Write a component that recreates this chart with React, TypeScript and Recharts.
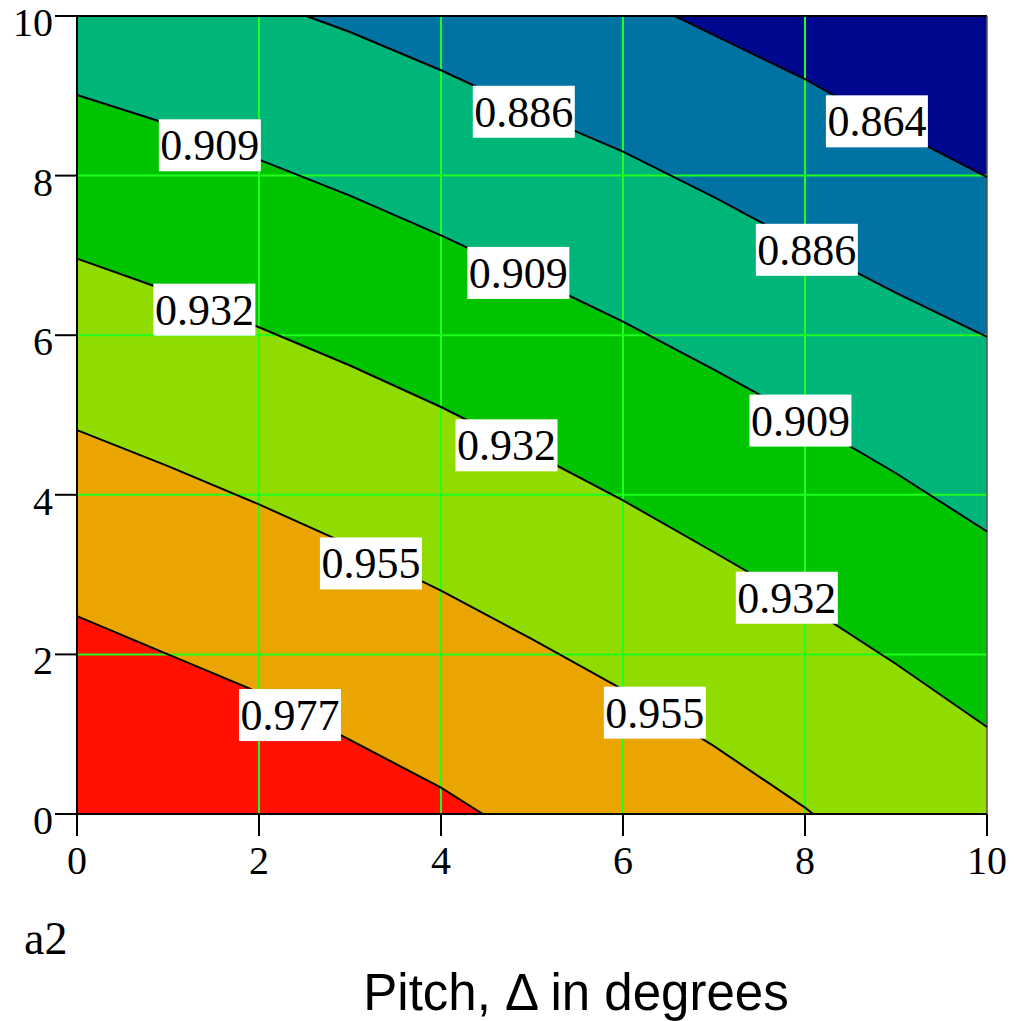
import React from "react";
import {
  ComposedChart,
  Area,
  Line,
  Scatter,
  XAxis,
  YAxis,
  ReferenceLine,
} from "recharts";

// axis ticks (pitch in degrees on x, a2 on y)
const xTicks = [0, 2, 4, 6, 8, 10];
const yTicks = [0, 2, 4, 6, 8, 10];
const gridTicks = [2, 4, 6, 8];

// contour lines, {x, y} in axis units
const c977 = [
  { x: 0, y: 2.48 }, { x: 1, y: 2.0 }, { x: 1.88, y: 1.58 }, { x: 3, y: 0.93 },
  { x: 4, y: 0.33 }, { x: 4.46, y: 0 },
];
const c955 = [
  { x: 0, y: 4.81 }, { x: 1, y: 4.36 }, { x: 2, y: 3.88 }, { x: 2.8, y: 3.47 },
  { x: 4, y: 2.8 }, { x: 5, y: 2.19 }, { x: 6, y: 1.56 }, { x: 7, y: 0.85 },
  { x: 8, y: 0.08 }, { x: 8.09, y: 0 },
];
const c932 = [
  { x: 0, y: 6.96 }, { x: 0.84, y: 6.62 }, { x: 2, y: 6.1 }, { x: 3, y: 5.62 },
  { x: 4, y: 5.1 }, { x: 5, y: 4.53 }, { x: 6, y: 3.93 }, { x: 7, y: 3.28 },
  { x: 8, y: 2.62 }, { x: 9, y: 1.88 }, { x: 10, y: 1.09 },
];
const c909 = [
  { x: 0, y: 9.01 }, { x: 0.88, y: 8.69 }, { x: 2, y: 8.2 }, { x: 3, y: 7.75 },
  { x: 4, y: 7.25 }, { x: 5, y: 6.72 }, { x: 6, y: 6.17 }, { x: 7, y: 5.57 },
  { x: 8, y: 4.94 }, { x: 9, y: 4.27 }, { x: 10, y: 3.54 },
];
const c886 = [
  { x: 2.52, y: 10 }, { x: 3, y: 9.8 }, { x: 4, y: 9.32 }, { x: 5, y: 8.79 },
  { x: 6, y: 8.3 }, { x: 7, y: 7.73 }, { x: 8, y: 7.12 }, { x: 9, y: 6.53 },
  { x: 10, y: 5.98 },
];
const c864 = [
  { x: 6.57, y: 10 }, { x: 7, y: 9.76 }, { x: 8, y: 9.21 }, { x: 9, y: 8.57 },
  { x: 10, y: 7.98 },
];

// contour labels
const labels = [
  { x: 2.34, y: 1.24, text: "0.977" },
  { x: 3.23, y: 3.14, text: "0.955" },
  { x: 6.35, y: 1.27, text: "0.955" },
  { x: 1.4, y: 6.32, text: "0.932" },
  { x: 4.72, y: 4.62, text: "0.932" },
  { x: 7.8, y: 2.71, text: "0.932" },
  { x: 1.46, y: 8.38, text: "0.909" },
  { x: 4.85, y: 6.78, text: "0.909" },
  { x: 7.95, y: 4.93, text: "0.909" },
  { x: 4.91, y: 8.8, text: "0.886" },
  { x: 8.02, y: 7.07, text: "0.886" },
  { x: 8.79, y: 8.68, text: "0.864" },
];

const X_MIN = xTicks[0];
const X_MAX = xTicks[xTicks.length - 1];
const Y_MAX = yTicks[yTicks.length - 1];

const topEdge = [{ x: X_MIN, y: Y_MAX }, { x: X_MAX, y: Y_MAX }];

// filled bands, painted top band first so lower ones cover it
const bands = [
  { name: "b864", data: topEdge, fill: "#000890" },
  { name: "b886", data: [{ x: X_MIN, y: Y_MAX }, ...c864], fill: "#0073A3" },
  { name: "b909", data: [{ x: X_MIN, y: Y_MAX }, ...c886], fill: "#00B57A" },
  { name: "b932", data: c909, fill: "#00C400" },
  { name: "b955", data: c932, fill: "#90DC00" },
  { name: "b977", data: c955, fill: "#EBA500" },
  { name: "b1", data: c977, fill: "#FF1000" },
];

const contours = [c977, c955, c932, c909, c886, c864];

const serif = "'Liberation Serif', 'Times New Roman', serif";

const XTick = ({ x, y, payload }: any) => (
  <text x={x} y={y} dy={38} textAnchor="middle" fontSize={40} fontFamily={serif} fill="#000">
    {payload.value}
  </text>
);

const YTick = ({ x, y, payload }: any) => (
  <text x={x} y={y} dy={20} textAnchor="end" fontSize={40} fontFamily={serif} fill="#000">
    {payload.value}
  </text>
);

const LabelBox = ({ cx, cy, payload }: any) => (
  <g>
    <rect x={cx - 51} y={cy - 26} width={102} height={52} fill="#ffffff" />
    <text x={cx} y={cy + 15} textAnchor="middle" fontSize={44} fontFamily={serif} fill="#000">
      {payload.text}
    </text>
  </g>
);

export default function App() {
  return (
    <div style={{ position: "absolute", left: 0, top: 0, width: 1015, height: 1021, background: "#fff" }}>
      <ComposedChart
        width={1015}
        height={1021}
        margin={{ top: 16, right: 28, left: 0, bottom: 147 }}
      >
        <XAxis
          type="number"
          dataKey="x"
          domain={[X_MIN, X_MAX]}
          ticks={xTicks}
          tickSize={22}
          tickMargin={0}
          height={60}
          axisLine={{ stroke: "#000", strokeWidth: 2 }}
          tickLine={{ stroke: "#000", strokeWidth: 2 }}
          tick={<XTick />}
          interval={0}
        />
        <YAxis
          type="number"
          dataKey="y"
          domain={[0, Y_MAX]}
          ticks={yTicks}
          tickSize={22}
          tickMargin={2}
          width={77}
          axisLine={{ stroke: "#000", strokeWidth: 2 }}
          tickLine={{ stroke: "#000", strokeWidth: 2 }}
          tick={<YTick />}
          interval={0}
        />
        {bands.map((b) => (
          <Area
            key={b.name}
            data={b.data}
            dataKey="y"
            type="linear"
            stroke="none"
            fill={b.fill}
            fillOpacity={1}
            isAnimationActive={false}
            dot={false}
            activeDot={false}
          />
        ))}
        {gridTicks.map((t) => (
          <ReferenceLine key={"gx" + t} x={t} stroke="#1EFF1E" strokeWidth={2} />
        ))}
        {gridTicks.map((t) => (
          <ReferenceLine key={"gy" + t} y={t} stroke="#1EFF1E" strokeWidth={2} />
        ))}
        <ReferenceLine y={Y_MAX} stroke="#000" strokeWidth={2} />
        <ReferenceLine x={X_MAX} stroke="#555" strokeWidth={1.5} />
        {contours.map((c, i) => (
          <Line
            key={"c" + i}
            data={c}
            dataKey="y"
            type="linear"
            stroke="#000"
            strokeWidth={2}
            dot={false}
            activeDot={false}
            isAnimationActive={false}
          />
        ))}
        <Scatter data={labels} dataKey="y" shape={<LabelBox />} isAnimationActive={false} />
      </ComposedChart>
      <svg
        width={1015}
        height={1021}
        style={{ position: "absolute", left: 0, top: 0, pointerEvents: "none" }}
      >
        <text x={24} y={954} fontSize={46} fontFamily={serif} fill="#000">a2</text>
        <text
          x={576}
          y={1010}
          textAnchor="middle"
          fontSize={51}
          fontFamily="'Liberation Sans', Arial, sans-serif"
          fill="#000"
        >
          Pitch, Δ in degrees
        </text>
      </svg>
    </div>
  );
}
